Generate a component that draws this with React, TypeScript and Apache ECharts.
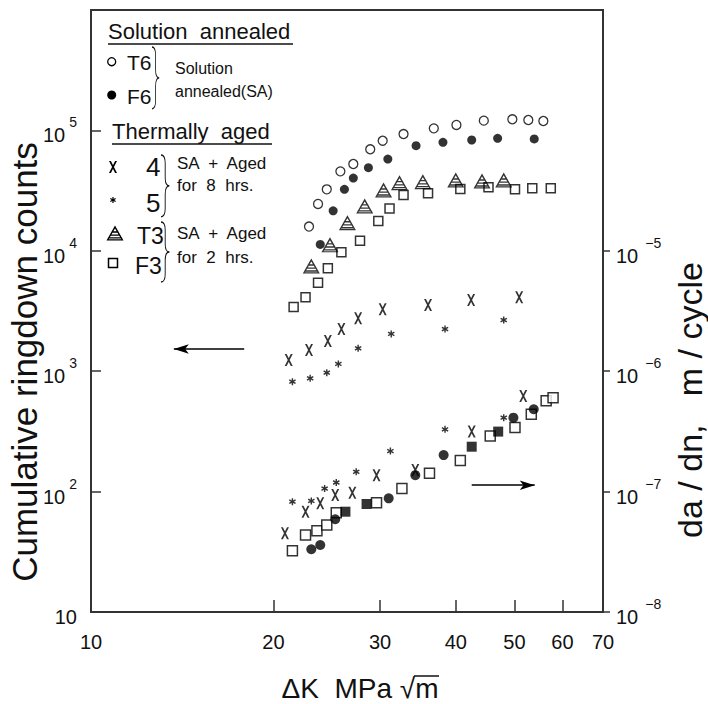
import React, { useEffect, useRef } from "react";
import * as echarts from "echarts";

// ---------- axis ticks ----------
const X_LABELS = [10, 20, 30, 40, 50, 60, 70];
const X_TICKS = [20, 30, 40, 50, 60, 70];
const LEFT_LABELS = [10, 100, 1000, 10000, 100000];
const LEFT_TICKS = [100, 1000, 10000, 100000];
const RIGHT_TICKS = [1e-8, 1e-7, 1e-6, 1e-5];

// ---------- upper group: cumulative ringdown counts (left axis) ----------
const T6_K = [22.9, 23.7, 24.5, 25.8, 27.1, 28.9, 30.3, 32.8, 36.8, 40.1, 44.5, 49.6, 52.7, 55.8];
const T6_N = [15900, 24500, 32400, 45700, 52600, 69700, 82100, 93300, 104000, 111000, 120500, 123700, 122000, 119700];
const F6_K = [23.9, 25.1, 26.2, 27.1, 28.7, 30.9, 34.4, 38.1, 42.5, 46.9, 53.9];
const F6_N = [11300, 21500, 32400, 40200, 49000, 57800, 74600, 79600, 83200, 85900, 84900];
const T3_K = [23.1, 24.8, 26.5, 28.3, 30.4, 32.3, 35.3, 40.0, 44.2, 48.0];
const T3_N = [7480, 11200, 17100, 23600, 32000, 36800, 37500, 38700, 38000, 38700];
const F3_K = [21.6, 22.6, 23.7, 24.6, 25.9, 27.8, 29.8, 31.1, 32.8, 36.0, 40.7, 45.3, 50.1, 53.5, 57.4];
const F3_N = [3410, 4110, 5430, 7160, 9720, 12100, 17700, 22500, 29100, 30000, 32600, 33700, 32400, 33000, 33000];
const S4_K = [21.2, 22.9, 24.6, 25.9, 27.6, 30.3, 36.0, 42.4, 50.9];
const S4_N = [1240, 1500, 1780, 2240, 2750, 3270, 3550, 3900, 4110];
const S5_K = [21.5, 23.0, 24.5, 25.6, 27.6, 31.3, 38.4, 48.0];
const S5_N = [818, 873, 972, 1150, 1550, 2040, 2240, 2660];

// ---------- lower group: da/dn (right axis) ----------
const F3L_K = [21.5, 22.6, 23.6, 24.5, 25.4, 29.6, 32.6, 36.2, 40.7, 45.6, 50.1, 53.3, 56.4, 57.9];
const F3L_R = [3.23e-8, 4.37e-8, 4.73e-8, 5.28e-8, 6.68e-8, 8.09e-8, 1.06e-7, 1.42e-7, 1.81e-7, 2.9e-7, 3.4e-7, 4.39e-7, 5.69e-7, 6.03e-7];
const F6L_K = [23.1, 23.9, 25.3, 31.0, 34.3, 38.2, 49.8, 53.8];
const F6L_R = [3.32e-8, 3.6e-8, 5.89e-8, 8.79e-8, 1.37e-7, 2.01e-7, 4.11e-7, 4.83e-7];
const SQL_K = [26.3, 28.5, 42.5, 47.0];
const SQL_R = [6.81e-8, 7.89e-8, 2.36e-7, 3.15e-7];
const S4L_K = [20.9, 22.6, 23.9, 25.3, 27.0, 29.6, 34.3, 42.5, 51.7];
const S4L_R = [4.51e-8, 6.81e-8, 8.0e-8, 9.37e-8, 9.8e-8, 1.37e-7, 1.51e-7, 3.15e-7, 6.22e-7];
const S5L_K = [21.5, 23.1, 24.3, 25.4, 27.4, 31.2, 38.4, 48.0];
const S5L_R = [8.24e-8, 8.36e-8, 1.06e-7, 1.19e-7, 1.46e-7, 2.17e-7, 3.29e-7, 4.11e-7];

// ---------- arrows (data coordinates) ----------
const LEFT_ARROW = { fromK: 17.9, toK: 13.7, n: 1530 };
const RIGHT_ARROW = { fromK: 42.5, toK: 54.0, r: 1.13e-7 };

// ---------- marker paths ----------
const XPATH = "M0,0 L2.4,0 L10,14 L7.6,14 Z M7.6,0 L10,0 L2.4,14 L0,14 Z";
const STARPATH =
  "M4,0 L6,0 L6,3.3 L8.9,1.6 L9.9,3.4 L7,5 L9.9,6.6 L8.9,8.4 L6,6.7 L6,10 L4,10 L4,6.7 L1.1,8.4 L0.1,6.6 L3,5 L0.1,3.4 L1.1,1.6 L4,3.3 Z";
const TRIPATH =
  "M10,0 L20,18 L0,18 Z M10,3.6 L2.6,16.6 L17.4,16.6 Z M6.11,7 L13.89,7 L14.78,8.6 L5.22,8.6 Z M4,10.8 L16,10.8 L16.89,12.4 L3.11,12.4 Z M2.11,14.2 L17.89,14.2 L18.78,15.8 L1.22,15.8 Z";
const BRACEPATH = "M0,0 Q6,0 6,8 L6,22 Q6,30 12,30 Q6,30 6,38 L6,52 Q6,60 0,60";

const FONT = "'Liberation Sans', Arial, sans-serif";
const AXIS_COLOR = "#333";

let shapesRegistered = false;
function registerShapes() {
  if (shapesRegistered) return;
  shapesRegistered = true;
  echarts.graphic.registerShape("xmark", echarts.graphic.extendPath(XPATH, {}) as any);
  echarts.graphic.registerShape("starmark", echarts.graphic.extendPath(STARPATH, {}) as any);
  echarts.graphic.registerShape("trimark", echarts.graphic.extendPath(TRIPATH, {}) as any);
  echarts.graphic.registerShape("brace", echarts.graphic.extendPath(BRACEPATH, {}) as any);
}

const zip = (xs: number[], ys: number[]) => xs.map((x, i) => [x, ys[i]]);

const supFmt = (v: number) => {
  const e = Math.round(Math.log10(v));
  if (e === 1) return "{b|10}";
  return "{b|10}{s|" + (e < 0 ? "\u2212" + -e : String(e)) + "}";
};

const rich = {
  b: { fontSize: 20, fontFamily: FONT, color: "#111", verticalAlign: "bottom", lineHeight: 30 },
  s: { fontSize: 14, fontFamily: FONT, color: "#111", verticalAlign: "top", lineHeight: 30, padding: [0, 0, 0, 4] },
};
const richRight = {
  b: rich.b,
  s: { ...rich.s, padding: [0, 0, 0, 7] },
};

export default function App() {
  const ref = useRef<HTMLDivElement>(null);

  useEffect(() => {
    if (!ref.current) return;
    registerShapes();
    const chart = echarts.init(ref.current, null, { renderer: "svg" });

    const openCircle = { color: "#fff", borderColor: "#000", borderWidth: 1.3 };
    const filled = { color: "#000" };
    const openSquare = { color: "#fff", borderColor: "#000", borderWidth: 1.5 };

    const scatter = (name: string, data: number[][], yAxisIndex: number, symbol: any, symbolSize: any, itemStyle: any, extra: any = {}) => ({
      type: "scatter",
      name,
      data,
      yAxisIndex,
      symbol,
      symbolSize,
      itemStyle,
      silent: true,
      ...extra,
    });

    const arrowMark = (coords: number[][]) => ({
      silent: true,
      symbol: ["none", "arrow"],
      symbolSize: [7, 15],
      label: { show: false },
      lineStyle: { color: "#000", width: 1.5, type: "solid" },
      data: [[{ coord: coords[0] }, { coord: coords[1] }]],
    });

    const legendGraphics: any[] = [
      { type: "text", x: 108, y: 31, style: { text: "Solution  annealed", fontSize: 22, fontFamily: FONT, fill: "#111", verticalAlign: "middle" } },
      { type: "line", shape: { x1: 108, y1: 44, x2: 293, y2: 44 }, style: { stroke: "#111", lineWidth: 1.5 } },
      { type: "circle", shape: { cx: 111.7, cy: 61.7, r: 4 }, style: { fill: "#fff", stroke: "#000", lineWidth: 1.3 } },
      { type: "text", x: 127, y: 62, style: { text: "T6", fontSize: 21, fontFamily: FONT, fill: "#111", verticalAlign: "middle" } },
      { type: "circle", shape: { cx: 111.7, cy: 95, r: 4.5 }, style: { fill: "#000" } },
      { type: "text", x: 127, y: 96, style: { text: "F6", fontSize: 21, fontFamily: FONT, fill: "#111", verticalAlign: "middle" } },
      { type: "brace", x: 152, y: 47, scaleX: 0.6, scaleY: 1.03, style: { fill: "none", stroke: "#111", lineWidth: 1.3 } },
      { type: "text", x: 175, y: 68, style: { text: "Solution", fontSize: 16, fontFamily: FONT, fill: "#111", verticalAlign: "middle" } },
      { type: "text", x: 175, y: 91, style: { text: "annealed(SA)", fontSize: 16, fontFamily: FONT, fill: "#111", verticalAlign: "middle" } },
      { type: "text", x: 112, y: 131, style: { text: "Thermally  aged", fontSize: 22, fontFamily: FONT, fill: "#111", verticalAlign: "middle" } },
      { type: "line", shape: { x1: 112, y1: 144, x2: 272, y2: 144 }, style: { stroke: "#111", lineWidth: 1.5 } },
      { type: "xmark", x: 109, y: 161, scaleX: 0.8, scaleY: 0.86, style: { fill: "#000" } },
      { type: "text", x: 146, y: 167, style: { text: "4", fontSize: 26, fontFamily: FONT, fill: "#111", verticalAlign: "middle" } },
      { type: "starmark", x: 110, y: 197, scaleX: 0.6, scaleY: 0.6, style: { fill: "#000" } },
      { type: "text", x: 146, y: 203, style: { text: "5", fontSize: 26, fontFamily: FONT, fill: "#111", verticalAlign: "middle" } },
      { type: "brace", x: 161, y: 155, scaleX: 0.7, scaleY: 1.03, style: { fill: "none", stroke: "#111", lineWidth: 1.3 } },
      { type: "text", x: 177, y: 163, style: { text: "SA  +  Aged", fontSize: 17, fontFamily: FONT, fill: "#111", verticalAlign: "middle" } },
      { type: "text", x: 177, y: 185, style: { text: "for  8  hrs.", fontSize: 17, fontFamily: FONT, fill: "#111", verticalAlign: "middle" } },
      { type: "trimark", x: 106.5, y: 225.5, scaleX: 0.85, scaleY: 0.83, style: { fill: "#000" } },
      { type: "text", x: 137, y: 236, style: { text: "T3", fontSize: 23, fontFamily: FONT, fill: "#111", verticalAlign: "middle" } },
      { type: "rect", shape: { x: 108.5, y: 258.5, width: 9, height: 9 }, style: { fill: "#fff", stroke: "#000", lineWidth: 1.5 } },
      { type: "text", x: 135, y: 266, style: { text: "F3", fontSize: 23, fontFamily: FONT, fill: "#111", verticalAlign: "middle" } },
      { type: "brace", x: 161, y: 222, scaleX: 0.7, scaleY: 1.0, style: { fill: "none", stroke: "#111", lineWidth: 1.3 } },
      { type: "text", x: 177, y: 233, style: { text: "SA  +  Aged", fontSize: 17, fontFamily: FONT, fill: "#111", verticalAlign: "middle" } },
      { type: "text", x: 177, y: 257, style: { text: "for  2  hrs.", fontSize: 17, fontFamily: FONT, fill: "#111", verticalAlign: "middle" } },
    ];

    const titleGraphics: any[] = [
      { type: "text", x: 24, y: 362, rotation: Math.PI / 2, style: { text: "Cumulative ringdown counts", fontSize: 35, fontFamily: FONT, fill: "#111", align: "center", verticalAlign: "middle" } },
      { type: "text", x: 690, y: 400, rotation: Math.PI / 2, style: { text: "da / dn,   m / cycle", fontSize: 34, fontFamily: FONT, fill: "#111", align: "center", verticalAlign: "middle" } },
      { type: "text", x: 360, y: 688, style: { text: "\u0394K  MPa \u221Am", fontSize: 28, fontFamily: FONT, fill: "#111", align: "center", verticalAlign: "middle" } },
      { type: "line", shape: { x1: 414, y1: 676, x2: 439, y2: 676 }, style: { stroke: "#111", lineWidth: 1.5 } },
    ];

    const option: any = {
      animation: false,
      backgroundColor: "#fff",
      grid: { left: 91, right: 105, top: 10, bottom: 92, show: true, borderColor: AXIS_COLOR, borderWidth: 2, backgroundColor: "transparent" },
      xAxis: {
        type: "log",
        logBase: 10,
        min: 10,
        max: 70,
        axisLine: { lineStyle: { color: AXIS_COLOR, width: 2 } },
        axisTick: { show: true, inside: true, length: 12, customValues: X_TICKS, lineStyle: { color: AXIS_COLOR, width: 1.5 } },
        axisLabel: { customValues: X_LABELS, margin: 20, fontSize: 20, fontFamily: FONT, color: "#111", formatter: (v: number) => String(Math.round(v)) },
        splitLine: { show: false },
        minorTick: { show: false },
      },
      yAxis: [
        {
          type: "log",
          logBase: 10,
          min: 10,
          max: 1e6,
          position: "left",
          axisLine: { show: true, lineStyle: { color: AXIS_COLOR, width: 2 } },
          axisTick: { show: true, inside: true, length: 10, customValues: LEFT_TICKS, lineStyle: { color: AXIS_COLOR, width: 1.5 } },
          axisLabel: { customValues: LEFT_LABELS, margin: 14, formatter: supFmt, rich },
          splitLine: { show: false },
        },
        {
          type: "log",
          logBase: 10,
          min: 1e-8,
          max: 1e-3,
          position: "right",
          axisLine: { show: true, lineStyle: { color: AXIS_COLOR, width: 2 } },
          axisTick: { show: true, inside: false, length: 7, customValues: RIGHT_TICKS, lineStyle: { color: AXIS_COLOR, width: 1.5 } },
          axisLabel: { customValues: RIGHT_TICKS, margin: 13, formatter: supFmt, rich: richRight },
          splitLine: { show: false },
        },
      ],
      graphic: [...legendGraphics, ...titleGraphics],
      series: [
        scatter("F3", zip(F3_K, F3_N), 0, "rect", 9, openSquare),
        scatter("T3", zip(T3_K, T3_N), 0, "path://" + TRIPATH, [17, 15], filled),
        scatter("T6", zip(T6_K, T6_N), 0, "circle", 9, openCircle, { markLine: arrowMark([[LEFT_ARROW.fromK, LEFT_ARROW.n], [LEFT_ARROW.toK, LEFT_ARROW.n]]) }),
        scatter("F6", zip(F6_K, F6_N), 0, "circle", 9, filled),
        scatter("4", zip(S4_K, S4_N), 0, "path://" + XPATH, [8, 12], filled),
        scatter("5", zip(S5_K, S5_N), 0, "path://" + STARPATH, 7, filled),
        scatter("F3 da/dn", zip(F3L_K, F3L_R), 1, "rect", 10, openSquare, { markLine: arrowMark([[RIGHT_ARROW.fromK, RIGHT_ARROW.r], [RIGHT_ARROW.toK, RIGHT_ARROW.r]]) }),
        scatter("sq da/dn", zip(SQL_K, SQL_R), 1, "rect", 10, filled),
        scatter("F6 da/dn", zip(F6L_K, F6L_R), 1, "circle", 10, filled),
        scatter("4 da/dn", zip(S4L_K, S4L_R), 1, "path://" + XPATH, [8, 12], filled),
        scatter("5 da/dn", zip(S5L_K, S5L_R), 1, "path://" + STARPATH, 7, filled),
      ],
    };

    chart.setOption(option);
    return () => chart.dispose();
  }, []);

  return (
    <div
      ref={ref}
      style={{ position: "fixed", left: 0, top: 0, width: 708, height: 704, background: "#fff" }}
    />
  );
}
